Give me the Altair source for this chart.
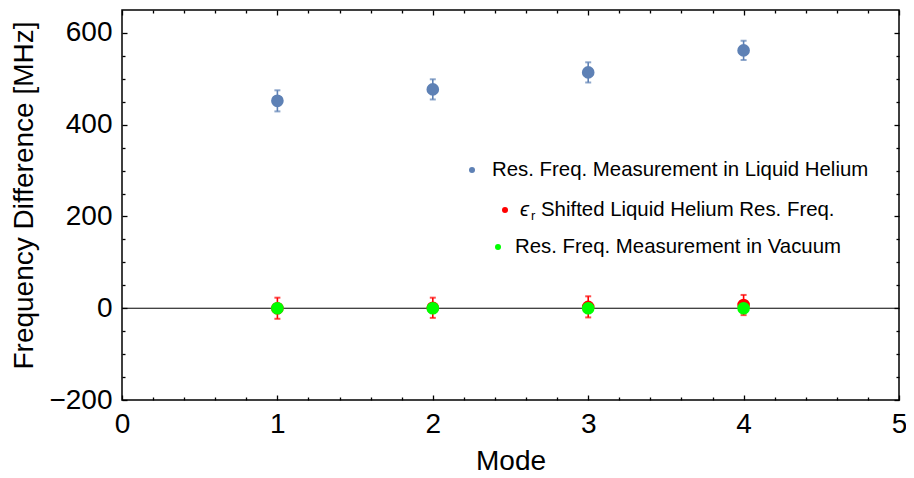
import altair as alt
import pandas as pd

# ---- data ----
modes = [1, 2, 3, 4]
helium = [452, 477, 514, 562]
helium_err = [23, 22, 22, 21]
shifted = [0, 1, 3, 7]
shifted_err = [23, 22, 23, 22]
vacuum = [0, 0, 0, 0]

legend_labels = [
    "Res. Freq. Measurement in Liquid Helium",
    "Shifted Liquid Helium Res. Freq.",
    "Res. Freq. Measurement in Vacuum",
]
eps_symbol = "\u03f5"
eps_sub = "r"

x_major = [0, 1, 2, 3, 4, 5]
x_minor = [0.2, 0.4, 0.6, 0.8, 1.2, 1.4, 1.6, 1.8, 2.2, 2.4, 2.6, 2.8,
           3.2, 3.4, 3.6, 3.8, 4.2, 4.4, 4.6, 4.8]
y_major = [-200, 0, 200, 400, 600]
y_minor = [-150, -100, -50, 50, 100, 150, 250, 300, 350, 450, 500, 550]
zero_line = [0]

BLUE = "#5E81B5"
RED = "#FF0000"
GREEN = "#00FF00"
FONT = "Liberation Sans"

W, H = 777, 390

blue_df = pd.DataFrame({"mode": modes, "val": helium,
                        "lo": [v - e for v, e in zip(helium, helium_err)],
                        "hi": [v + e for v, e in zip(helium, helium_err)]})
red_df = pd.DataFrame({"mode": modes, "val": shifted,
                       "lo": [v - e for v, e in zip(shifted, shifted_err)],
                       "hi": [v + e for v, e in zip(shifted, shifted_err)]})
green_df = pd.DataFrame({"mode": modes, "val": vacuum})
zero_df = pd.DataFrame({"z": zero_line})
one = pd.DataFrame({"k": [0]})

XS = alt.Scale(domain=[0, 5], nice=False, zero=False)
YS = alt.Scale(domain=[-200, 650], nice=False, zero=False)


def tick_axis(orient, values, size):
    return alt.Axis(orient=orient, values=values, offset=-size, tickSize=size,
                    ticks=True, labels=False, domain=False, grid=False,
                    title=None, tickColor="black", tickWidth=1.3)


x_label_axis = alt.Axis(orient="bottom", values=x_major, ticks=False, domain=False,
                        grid=False, labelPadding=10, labelFontSize=28, labelFont=FONT,
                        labelColor="black", format="d", labelFlush=False,
                        title="Mode",
                        titleFont=FONT, titleFontSize=28, titleFontWeight="normal",
                        titleColor="black", titleY=69, titleBaseline="alphabetic")
y_label_axis = alt.Axis(orient="left", values=y_major, ticks=False, domain=False,
                        grid=False, labelPadding=10, labelFontSize=28, labelFont=FONT,
                        labelColor="black", format="d", labelFlush=False,
                        title="Frequency Difference [MHz]",
                        titleFont=FONT, titleFontSize=28, titleFontWeight="normal",
                        titleColor="black", titleAngle=270, titleX=-90, titleY=185,
                        titleBaseline="alphabetic", titleAlign="center")

base_blue = alt.Chart(blue_df)
base_red = alt.Chart(red_df)

zero = alt.Chart(zero_df).mark_rule(color="black", strokeWidth=1).encode(
    y=alt.Y("z:Q", scale=YS, axis=None))

# blue error bars (each layer also carries one set of axis ticks)
blue_rule = base_blue.mark_rule(color=BLUE, strokeWidth=1.6).encode(
    x=alt.X("mode:Q", scale=XS, axis=tick_axis("bottom", x_major, 5)),
    y=alt.Y("lo:Q", scale=YS, axis=tick_axis("left", y_major, 5)),
    y2="hi:Q")
blue_cap_lo = base_blue.mark_tick(color=BLUE, orient="horizontal", size=6, thickness=2).encode(
    x=alt.X("mode:Q", scale=XS, axis=tick_axis("bottom", x_minor, 3)),
    y=alt.Y("lo:Q", scale=YS, axis=tick_axis("left", y_minor, 3)))
blue_cap_hi = base_blue.mark_tick(color=BLUE, orient="horizontal", size=6, thickness=2).encode(
    x=alt.X("mode:Q", scale=XS, axis=tick_axis("top", x_major, 5)),
    y=alt.Y("hi:Q", scale=YS, axis=tick_axis("right", y_major, 5)))
blue_pts = base_blue.mark_circle(color=BLUE, size=160, opacity=1).encode(
    x=alt.X("mode:Q", scale=XS, axis=x_label_axis),
    y=alt.Y("val:Q", scale=YS, axis=y_label_axis))

red_rule = base_red.mark_rule(color=RED, strokeWidth=1.6).encode(
    x=alt.X("mode:Q", scale=XS, axis=tick_axis("top", x_minor, 3)),
    y=alt.Y("lo:Q", scale=YS, axis=tick_axis("right", y_minor, 3)),
    y2="hi:Q")
red_cap_lo = base_red.mark_tick(color=RED, orient="horizontal", size=6, thickness=2).encode(
    x=alt.X("mode:Q", scale=XS, axis=None), y=alt.Y("lo:Q", scale=YS, axis=None))
red_cap_hi = base_red.mark_tick(color=RED, orient="horizontal", size=6, thickness=2).encode(
    x=alt.X("mode:Q", scale=XS, axis=None), y=alt.Y("hi:Q", scale=YS, axis=None))
red_pts = base_red.mark_circle(color=RED, size=160, opacity=1).encode(
    x=alt.X("mode:Q", scale=XS, axis=None), y=alt.Y("val:Q", scale=YS, axis=None))
green_pts = alt.Chart(green_df).mark_circle(color=GREEN, size=160, opacity=1).encode(
    x=alt.X("mode:Q", scale=XS, axis=None), y=alt.Y("val:Q", scale=YS, axis=None))

# manual legend (positions in plot-area pixels)
def dot(color, px, py):
    return alt.Chart(one).mark_circle(color=color, size=36, opacity=1).encode(
        x=alt.value(px), y=alt.value(py))


def label(txt, px, py, size=20.4, italic=False):
    return alt.Chart(one).mark_text(align="left", baseline="middle", font=FONT,
                                    fontSize=size, color="black",
                                    fontStyle="italic" if italic else "normal").encode(
        x=alt.value(px), y=alt.value(py), text=alt.value(txt))


legend = [
    dot(BLUE, 350, 160), label(legend_labels[0], 370, 160),
    dot(RED, 383, 200), label(eps_symbol, 398, 200, italic=True),
    label(eps_sub, 409, 206, size=13), label(legend_labels[1], 419, 200),
    dot(GREEN, 376, 237), label(legend_labels[2], 393, 237),
]

chart = alt.layer(
    zero, blue_rule, blue_cap_lo, blue_cap_hi, blue_pts,
    red_rule, red_cap_lo, red_cap_hi, red_pts, green_pts, *legend
).resolve_axis(x="independent", y="independent").properties(
    width=W, height=H,
    autosize=alt.AutoSizeParams(type="none"),
    padding={"left": 114, "top": 2, "right": 7, "bottom": 76},
    background="white",
).configure_view(stroke="black", strokeWidth=1.5)

chart.save("out.html", embed_options={"renderer": "svg", "actions": False})
